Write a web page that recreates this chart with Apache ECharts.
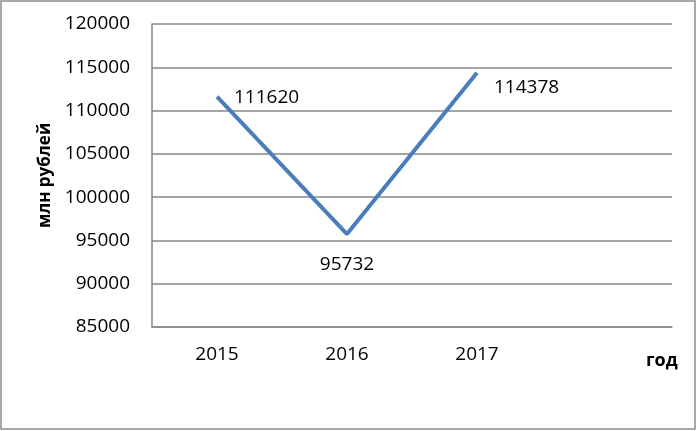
<!DOCTYPE html>
<html>
<head>
<meta charset="utf-8">
<script src="https://cdn.jsdelivr.net/npm/echarts@6/dist/echarts.min.js"></script>
<style>
  html, body { margin: 0; padding: 0; background: #fff; }
  #chart { width: 697px; height: 431px; }
</style>
</head>
<body>
<div id="chart"></div>
<script>
var years = ["2015", "2016", "2017", ""];
var values = [111620, 95732, 114378, null];

// where each value label sits relative to its point
var labelPos = ["right", "bottom", "right"];
var labelShift = [[0, 1], [0, 4], [0, 15]];

var chart = echarts.init(document.getElementById("chart"));
var font = "'Open Sans', 'Noto Sans', sans-serif";

chart.setOption({
  animation: false,
  grid: { left: 152, right: 25, top: 24, bottom: 104 },
  graphic: [
    {
      type: "rect",
      shape: { x: 1, y: 1, width: 694, height: 428 },
      style: { fill: "none", stroke: "#8c8c8c", lineWidth: 1.5 }
    },
    {
      type: "text",
      left: 646,
      top: 352,
      style: { text: "год", font: "bold 18px " + font, fill: "#000" }
    }
  ],
  xAxis: {
    type: "category",
    data: years,
    boundaryGap: true,
    axisLine: { lineStyle: { color: "#878787", width: 1.5 } },
    axisTick: { show: false },
    axisLabel: { color: "#000", fontSize: 19, fontFamily: font, margin: 18 }
  },
  yAxis: {
    type: "value",
    min: 85000,
    max: 120000,
    interval: 5000,
    name: "млн рублей",
    nameLocation: "middle",
    nameGap: 92,
    nameTextStyle: { color: "#000", fontSize: 17, fontWeight: "bold", fontFamily: font },
    axisLine: { show: true, lineStyle: { color: "#878787", width: 1.5 } },
    axisTick: { show: false },
    splitLine: { lineStyle: { color: "#878787", width: 1.5 } },
    axisLabel: {
      color: "#000",
      fontSize: 19,
      fontFamily: font,
      margin: 22,
      formatter: function (v) { return String(v); }
    }
  },
  series: [
    {
      type: "line",
      data: values.map(function (v, i) {
        return {
          value: v,
          label: {
            show: true,
            position: labelPos[i] || "right",
            offset: labelShift[i] || [0, 0]
          }
        };
      }),
      symbol: "circle",
      symbolSize: 2,
      showSymbol: true,
      itemStyle: { color: "rgba(74,126,187,0)" },
      lineStyle: { color: "#4a7ebb", width: 4 },
      label: {
        show: true,
        color: "#000",
        fontSize: 19,
        fontFamily: font,
        distance: 16
      }
    }
  ]
});
</script>
</body>
</html>
